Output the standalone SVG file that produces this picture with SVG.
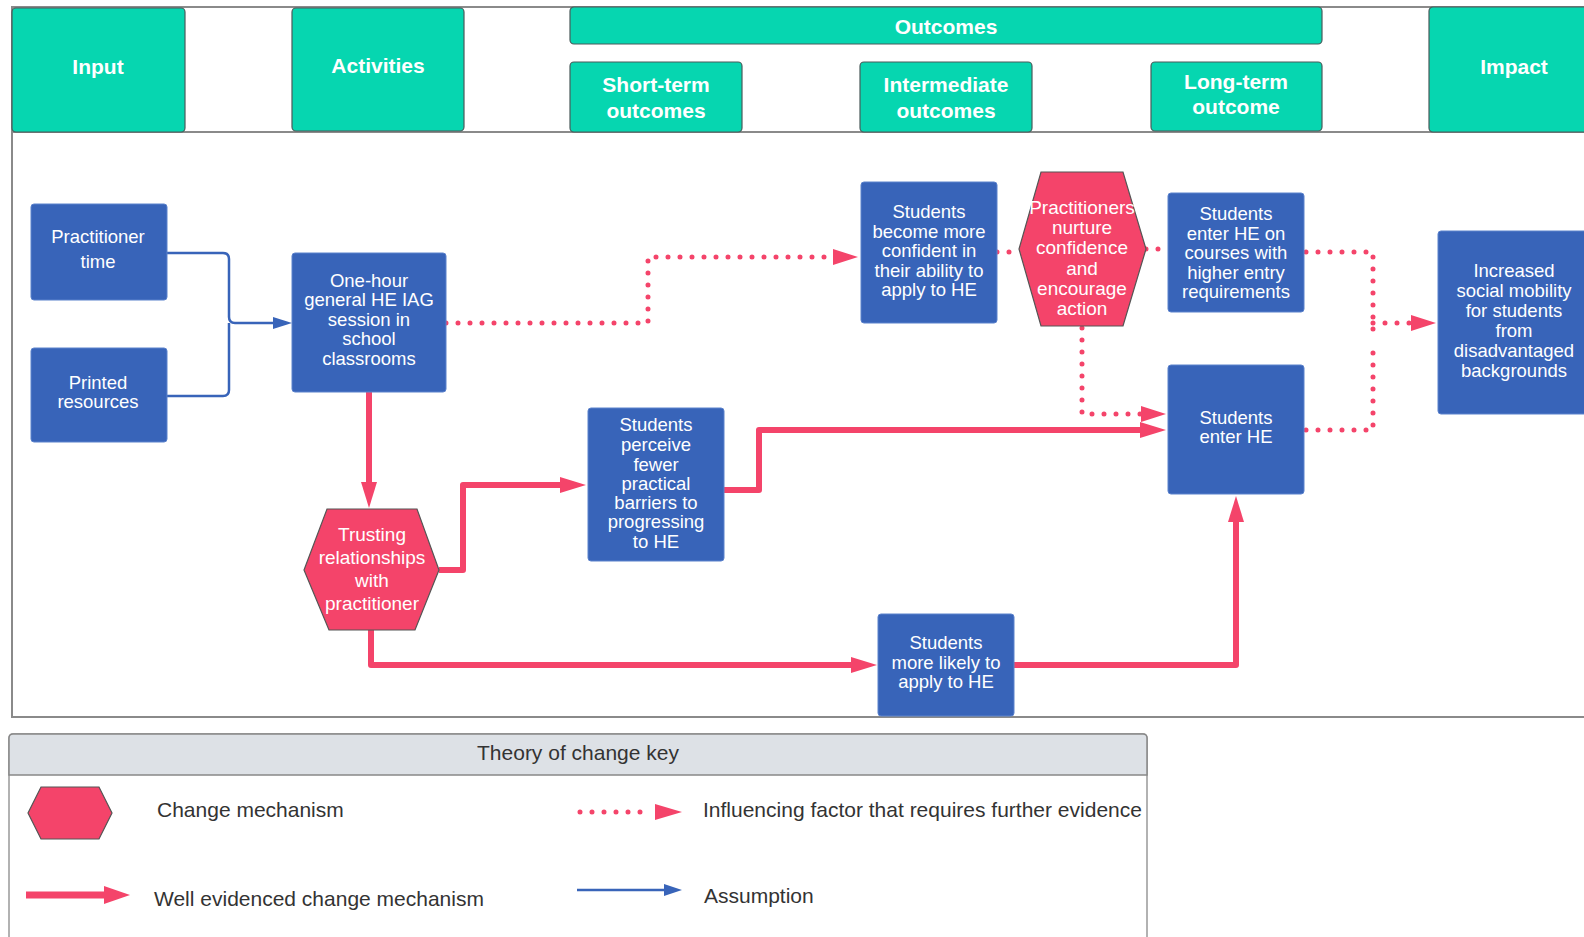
<svg xmlns="http://www.w3.org/2000/svg" width="1584" height="937" viewBox="0 0 1584 937">
<defs>
<style>
.hdr{fill:#06D6B0;stroke:#4a5a5a;stroke-width:1.2}
.ht{font-family:"Liberation Sans",Arial,sans-serif;font-weight:bold;font-size:21px;fill:#fff;text-anchor:middle}
.nb{fill:#3864B9;stroke:#5b82cc;stroke-width:1}
.hex{fill:#F4446A;stroke:#555;stroke-width:1.2}
.nt{font-family:"Liberation Sans",Arial,sans-serif;font-size:18.5px;fill:#fff;text-anchor:middle}
.xt{font-family:"Liberation Sans",Arial,sans-serif;font-size:19px;fill:#fff;text-anchor:middle}
.lt{font-family:"Liberation Sans",Arial,sans-serif;font-size:21px;fill:#333}
.solid{fill:none;stroke:#F4446A;stroke-width:6;stroke-linejoin:round}
.dot{fill:none;stroke:#F4446A;stroke-width:5;stroke-dasharray:0 12;stroke-linecap:round}
.blue{fill:none;stroke:#3864B9;stroke-width:2.5;stroke-linejoin:round}
</style>
<marker id="ar" markerUnits="userSpaceOnUse" markerWidth="26" markerHeight="16" refX="0" refY="8" orient="auto"><path d="M0,0 L26,8 L0,16 z" fill="#F4446A"/></marker>
<marker id="ad" markerUnits="userSpaceOnUse" markerWidth="25" markerHeight="16" refX="0" refY="8" orient="auto"><path d="M0,0 L25,8 L0,16 z" fill="#F4446A"/></marker>
<marker id="ab" markerUnits="userSpaceOnUse" markerWidth="19" markerHeight="12" refX="0" refY="6" orient="auto"><path d="M0,0 L19,6 L0,12 z" fill="#3864B9"/></marker>
</defs>
<rect x="0" y="0" width="1584" height="937" fill="#fff"/>
<g id="frame">
<rect x="12" y="7" width="1600" height="710" fill="none" stroke="#8a8a8a" stroke-width="2"/>
<line x1="12" y1="132" x2="1584" y2="132" stroke="#8a8a8a" stroke-width="2"/>
</g>
<g id="h-input"><rect class="hdr" x="12" y="8" width="173" height="124" rx="4"/><text class="ht" x="98" y="74">Input</text></g>
<g id="h-activities"><rect class="hdr" x="292" y="8" width="172" height="123" rx="4"/><text class="ht" x="378" y="73">Activities</text></g>
<g id="h-outcomes"><rect class="hdr" x="570" y="7" width="752" height="37" rx="4"/><text class="ht" x="946" y="34">Outcomes</text></g>
<g id="h-short"><rect class="hdr" x="570" y="62" width="172" height="70" rx="4"/><text class="ht" x="656" y="92">Short-term</text><text class="ht" x="656" y="118">outcomes</text></g>
<g id="h-inter"><rect class="hdr" x="860" y="62" width="172" height="70" rx="4"/><text class="ht" x="946" y="92">Intermediate</text><text class="ht" x="946" y="118">outcomes</text></g>
<g id="h-long"><rect class="hdr" x="1151" y="62" width="171" height="69" rx="4"/><text class="ht" x="1236" y="89">Long-term</text><text class="ht" x="1236" y="114">outcome</text></g>
<g id="h-impact"><rect class="hdr" x="1429" y="7" width="170" height="125" rx="4"/><text class="ht" x="1514" y="74">Impact</text></g>
<g id="connectors">
<path class="blue" d="M167,253 H223 Q229,253 229,259 V317 Q229,323 235,323 H273" marker-end="url(#ab)"/>
<path class="blue" d="M167,396 H223 Q229,396 229,390 V323"/>
<path class="dot" d="M446,323 H648 V257 H833" marker-end="url(#ad)"/>
<path class="dot" d="M997,252 H1019"/>
<path class="dot" d="M1146,249 H1168"/>
<path class="dot" d="M1082,328 V414 H1141" marker-end="url(#ad)"/>
<path class="dot" d="M1306,252 H1373 V341"/>
<path class="dot" d="M1306,430 H1373 V341"/>
<path class="dot" d="M1373,323 H1411" marker-end="url(#ad)"/>
<path class="solid" d="M369,392 V482" marker-end="url(#ar)"/>
<path class="solid" d="M439,570 H463 V485 H560" marker-end="url(#ar)"/>
<path class="solid" d="M724,490 H759 V430 H1140" marker-end="url(#ar)"/>
<path class="solid" d="M371,630 V665 H851" marker-end="url(#ar)"/>
<path class="solid" d="M1014,665 H1236 V522" marker-end="url(#ar)"/>
</g>
<g id="n-practime"><rect class="nb" x="31" y="204" width="136" height="96" rx="3"/><text class="nt" x="98" y="243">Practitioner</text><text class="nt" x="98" y="268">time</text></g>
<g id="n-printed"><rect class="nb" x="31" y="348" width="136" height="94" rx="3"/><text class="nt" x="98" y="389">Printed</text><text class="nt" x="98" y="408">resources</text></g>
<g id="n-session"><rect class="nb" x="292" y="253" width="154" height="139" rx="3"/>
<text class="nt" x="369" y="287">One-hour</text><text class="nt" x="369" y="306">general HE IAG</text><text class="nt" x="369" y="326">session in</text><text class="nt" x="369" y="345">school</text><text class="nt" x="369" y="365">classrooms</text></g>
<g id="n-confident"><rect class="nb" x="861" y="182" width="136" height="141" rx="3"/>
<text class="nt" x="929" y="218">Students</text><text class="nt" x="929" y="238">become more</text><text class="nt" x="929" y="257">confident in</text><text class="nt" x="929" y="277">their ability to</text><text class="nt" x="929" y="296">apply to HE</text></g>
<g id="n-nurture"><polygon class="hex" points="1041,172 1123,172 1146,249 1123,326 1041,326 1019,249"/>
<text class="xt" x="1082" y="214">Practitioners</text><text class="xt" x="1082" y="234">nurture</text><text class="xt" x="1082" y="254">confidence</text><text class="xt" x="1082" y="275">and</text><text class="xt" x="1082" y="295">encourage</text><text class="xt" x="1082" y="315">action</text></g>
<g id="n-higher"><rect class="nb" x="1168" y="193" width="136" height="119" rx="3"/>
<text class="nt" x="1236" y="220">Students</text><text class="nt" x="1236" y="240">enter HE on</text><text class="nt" x="1236" y="259">courses with</text><text class="nt" x="1236" y="279">higher entry</text><text class="nt" x="1236" y="298">requirements</text></g>
<g id="n-mobility"><rect class="nb" x="1438" y="231" width="160" height="183" rx="3"/>
<text class="nt" x="1514" y="277">Increased</text><text class="nt" x="1514" y="297">social mobility</text><text class="nt" x="1514" y="317">for students</text><text class="nt" x="1514" y="337">from</text><text class="nt" x="1514" y="357">disadvantaged</text><text class="nt" x="1514" y="377">backgrounds</text></g>
<g id="n-barriers"><rect class="nb" x="588" y="408" width="136" height="153" rx="3"/>
<text class="nt" x="656" y="431">Students</text><text class="nt" x="656" y="451">perceive</text><text class="nt" x="656" y="471">fewer</text><text class="nt" x="656" y="490">practical</text><text class="nt" x="656" y="509">barriers to</text><text class="nt" x="656" y="528">progressing</text><text class="nt" x="656" y="548">to HE</text></g>
<g id="n-trusting"><polygon class="hex" points="327,509 417,509 439,570 415,630 329,630 304,570"/>
<text class="xt" x="372" y="541">Trusting</text><text class="xt" x="372" y="564">relationships</text><text class="xt" x="372" y="587">with</text><text class="xt" x="372" y="610">practitioner</text></g>
<g id="n-enter"><rect class="nb" x="1168" y="365" width="136" height="129" rx="3"/>
<text class="nt" x="1236" y="424">Students</text><text class="nt" x="1236" y="443">enter HE</text></g>
<g id="n-likely"><rect class="nb" x="878" y="614" width="136" height="102" rx="3"/>
<text class="nt" x="946" y="649">Students</text><text class="nt" x="946" y="669">more likely to</text><text class="nt" x="946" y="688">apply to HE</text></g>
<g id="legend">
<rect x="9" y="734" width="1138" height="215" rx="4" fill="#fff" stroke="#999" stroke-width="1.5"/>
<path d="M9,775 V738 Q9,734 13,734 H1143 Q1147,734 1147,738 V775 Z" fill="#DDE1E6" stroke="#888" stroke-width="1.5"/>
<text class="lt" x="578" y="760" text-anchor="middle">Theory of change key</text>
<polygon class="hex" points="41,787 99,787 112,813 99,839 41,839 28,813"/>
<text class="lt" x="157" y="817">Change mechanism</text>
<path class="dot" d="M580,812 H645"/>
<path d="M655,804 L682,812 L655,820 z" fill="#F4446A"/>
<text class="lt" x="703" y="817">Influencing factor that requires further evidence</text>
<path d="M26,895 H104" stroke="#F4446A" stroke-width="7" fill="none"/>
<path d="M104,886 L130,895 L104,904 z" fill="#F4446A"/>
<text class="lt" x="154" y="906">Well evidenced change mechanism</text>
<path d="M577,890 H664" class="blue"/>
<path d="M664,884 L682,890 L664,896 z" fill="#3864B9"/>
<text class="lt" x="704" y="903">Assumption</text>
</g>
</svg>
